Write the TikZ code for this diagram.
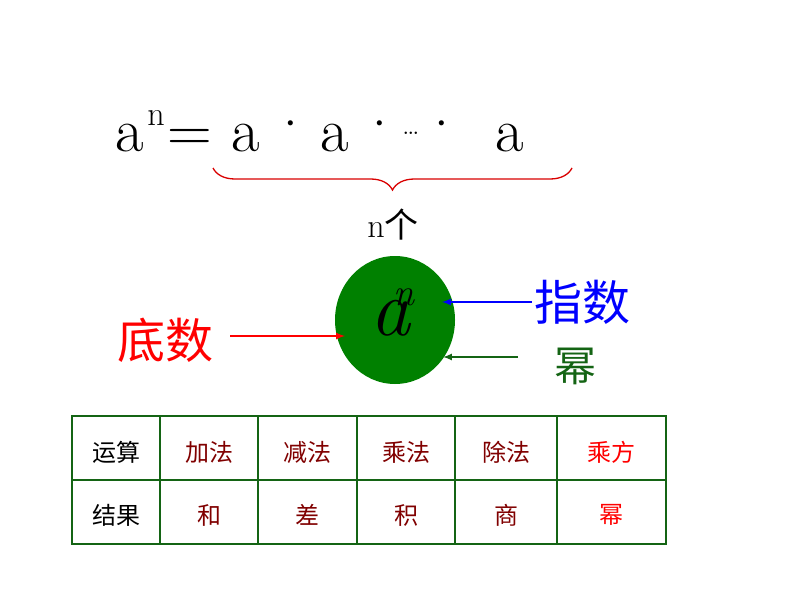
\documentclass[tikz,border=0pt]{standalone}
\usepackage{fontspec}
\newfontfamily\cjk{Noto Sans CJK SC}
\usetikzlibrary{decorations.pathreplacing,shapes.geometric}
\definecolor{dgreen}{RGB}{0,128,0}
\definecolor{tgreen}{RGB}{20,100,20}
\definecolor{dred}{RGB}{128,0,0}
\tikzset{big/.style={font=\fontsize{62}{62}\selectfont, anchor=base, inner sep=0},
 dotn/.style={font=\fontsize{62}{62}\selectfont, inner sep=0},
 cell/.style={font=\cjk\fontsize{24}{24}\selectfont, inner sep=0},
 conn/.style={line width=2pt,-latex}}
\begin{document}
\begin{tikzpicture}[x=1pt,y=-1pt]
\useasboundingbox (0,0) rectangle (794,596);
\node[big] (a1) at (130,152) {a};
\node[font=\fontsize{34}{34}\selectfont, anchor=base, inner sep=0] (n1) at (156,126) {n};
\node[big] (eq) at (190,152) {=};
\node[big] (a2) at (246,152) {a};
\node[dotn] (d1) at (291,133) {·};
\node[big] (a3) at (335,152) {a};
\node[dotn] (d2) at (380,133) {·};
\node[font=\fontsize{30}{30}\selectfont, inner sep=0] (el) at (411,133) {…};
\node[dotn] (d3) at (442,133) {·};
\node[big] (a4) at (510,152) {a};
\coordinate (bl) at (213,168);
\coordinate (br) at (572,168);
\draw[red!85!black, line width=1.3pt, decorate, decoration={brace, mirror, amplitude=22pt, aspect=0.5}] (bl) -- (br);
\node[font=\fontsize{34}{34}\selectfont, inner sep=0] (nge) at (393,225) {n{\cjk 个}};
\node[ellipse, fill=dgreen, minimum width=120, minimum height=128, inner sep=0, draw=none] (c) at (395,320) {};
\node[font=\itshape\fontsize{80}{80}\selectfont, inner sep=0] (aa) at (390,318) {a};
\node[font=\itshape\fontsize{38}{38}\selectfont, inner sep=0] (nn) at (404,297) {n};
\node[font=\cjk\fontsize{48}{48}\selectfont, text=red, inner sep=0] (di) at (165,340) {底数};
\node[font=\cjk\fontsize{48}{48}\selectfont, text=blue, inner sep=0] (zhi) at (582,302) {指数};
\node[font=\cjk\fontsize{42}{42}\selectfont, text=tgreen, inner sep=0] (mi) at (575,366) {幂};
\coordinate (p1) at (345,336);
\coordinate (p2) at (442,302);
\coordinate (p3) at (443,357);
\draw[conn, red] (230,336) -- (p1);
\draw[conn, blue] (zhi.west) ++(-2,0) -- (p2);
\draw[conn, tgreen] (518,357) -- (p3);
% table
\draw[tgreen, line width=1.6pt] (72,416) rectangle (666,544);
\draw[tgreen, line width=1.2pt] (72,480) -- (666,480);
\foreach \x in {160,258,357,455,557} \draw[tgreen, line width=1.2pt] (\x,416) -- (\x,544);
\node[cell] (r11) at (116,452) {运算};
\node[cell, text=dred] (r12) at (209,452) {加法};
\node[cell, text=dred] (r13) at (307,452) {减法};
\node[cell, text=dred] (r14) at (406,452) {乘法};
\node[cell, text=dred] (r15) at (506,452) {除法};
\node[cell, text=red] (r16) at (611,452) {乘方};
\node[cell] (r21) at (116,515) {结果};
\node[cell, text=dred] (r22) at (209,515) {和};
\node[cell, text=dred] (r23) at (307,515) {差};
\node[cell, text=dred] (r24) at (406,515) {积};
\node[cell, text=dred] (r25) at (506,515) {商};
\node[cell, text=red] (r26) at (611,515) {幂};
\end{tikzpicture}
\end{document}
